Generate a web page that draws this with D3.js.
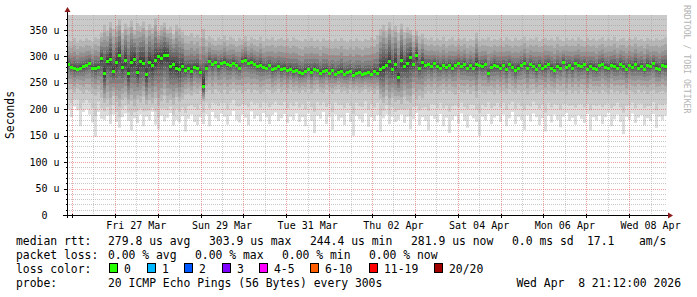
<!DOCTYPE html>
<html>
<head>
<meta charset="utf-8">
<script src="https://cdn.jsdelivr.net/npm/d3@7"></script>
<style>
  body { margin: 0; background: #fff; }
  text { font-family: "DejaVu Sans Mono", monospace; }
</style>
</head>
<body>
<div id="chart"></div>
<script>
// median rtt per 100.8 min step (us), 200 steps
const median = [
  286,280,278,277,279,281,283,287,279,278,280,297,
  268,292,296,273,289,302,280,293,268,290,296,270,291,288,266,290,284,293,300,297,303,302,282,286,279,276,282,274,278,273,280,279,270,
  244,279,291,285,290,281,287,290,286,283,288,284,278,292,294,288,289,286,282,284,280,279,283,276,278,281,276,279,274,277,272,275,270,
  268,273,276,271,277,274,269,272,275,268,274,266,271,273,267,270,272,265,269,271,266,268,270,267,273,269,276,280,284,291,277,286,262,
  293,281,288,298,285,302,278,289,283,285,281,287,282,279,283,280,284,279,284,287,282,285,278,283,279,286,283,282,285,268,280,284,281,
  279,283,277,285,280,274,279,283,287,278,285,281,276,284,278,281,286,279,275,282,279,290,280,284,278,287,283,281,285,277,282,279,276,
  283,286,280,278,284,282,279,286,281,277,283,280,285,279,282,276,284,281,287,279,276,283,282
];
// smoke: lowest ping, 3rd ping, 18th ping, highest ping (us)
const lo = [
  200,185,205,198,168,195,200,190,175,148,195,182,
  180,188,172,190,176,165,185,192,178,160,183,174,190,168,186,179,195,171,162,188,177,184,193,169,180,175,187,158,182,190,176,170,185,
  172,190,168,195,183,178,192,186,171,188,197,180,175,190,184,170,196,182,188,177,193,185,172,189,194,178,183,191,174,186,180,192,176,
  185,168,192,178,155,188,182,195,172,186,160,190,179,184,170,193,176,150,188,181,175,192,167,185,178,189,158,183,190,172,186,176,180,
  190,174,186,162,181,193,170,185,178,160,188,182,175,191,168,184,155,180,187,173,192,178,165,189,183,176,150,186,179,191,172,184,188,
  176,190,168,183,195,172,186,180,161,189,177,192,185,170,183,158,188,175,190,180,166,186,193,178,184,171,189,182,174,191,160,185,179,
  188,172,185,193,168,181,190,176,153,186,180,192,174,184,189,170,183,178,191,165,186,180,188
];
const dn = [
  236,238,232,240,235,230,237,234,229,226,233,222,
  212,220,208,225,214,205,218,222,210,216,206,219,213,224,209,217,211,221,207,215,226,212,218,209,223,214,220,228,230,226,232,229,235,
  215,233,236,230,238,234,231,237,229,235,239,233,236,230,234,238,232,237,235,229,233,238,236,231,234,239,232,236,230,237,233,235,231,
  236,232,238,230,235,239,233,231,237,234,229,236,238,232,235,230,237,233,236,231,234,238,232,235,229,236,220,212,225,208,222,214,218,
  210,224,216,212,228,219,226,221,230,234,231,236,229,233,237,230,235,232,228,236,233,231,237,229,234,222,236,232,230,235,233,228,236,
  231,234,229,237,233,230,236,232,235,228,234,237,231,233,236,229,235,232,230,237,233,234,228,236,231,235,230,237,233,229,236,232,234,
  230,236,233,229,237,232,235,231,234,228,236,233,230,237,232,235,229,234,236,231,233,235,232
];
const up = [
  330,328,335,326,332,329,334,331,327,336,333,345,
  360,348,365,352,358,370,345,362,355,368,350,363,357,366,349,361,354,372,347,359,364,351,356,342,360,353,347,340,338,344,336,341,335,
  352,332,338,334,330,336,333,339,331,337,334,329,335,332,338,330,336,333,331,337,329,334,332,336,330,333,335,331,334,329,336,332,330,
  328,333,330,335,329,332,327,334,330,331,328,333,329,335,330,327,332,329,334,330,328,333,331,336,332,340,352,360,348,365,350,358,345,
  362,346,355,350,340,348,338,343,335,332,336,330,334,331,337,329,333,336,330,334,332,335,329,333,331,345,330,334,332,336,330,333,331,
  334,330,336,332,329,335,331,333,337,330,334,332,336,329,333,335,331,334,330,337,332,329,335,331,334,330,336,332,329,335,331,334,330,
  333,336,330,334,331,337,329,333,335,330,334,332,336,331,333,329,335,332,330,334,331,333,336
];
const hi = [
  440,460,430,480,450,470,445,500,455,435,490,520,
  560,520,600,540,580,610,530,570,590,550,620,540,575,600,530,560,585,610,545,570,595,555,580,520,565,540,510,500,480,495,470,490,460,
  500,470,455,480,445,465,490,450,475,460,485,445,470,455,480,450,465,490,455,470,445,480,460,475,450,465,485,455,470,445,480,460,450,
  455,470,445,480,460,450,475,440,465,455,480,445,470,460,450,475,445,465,455,480,450,470,460,485,470,500,540,570,520,590,550,560,530,
  580,540,560,520,500,530,490,510,480,470,485,460,475,450,470,445,465,480,455,470,450,475,445,465,455,500,450,470,460,475,445,465,455,
  470,450,475,455,445,480,460,450,475,440,465,455,480,445,470,460,450,475,455,445,470,460,480,450,465,455,475,445,470,460,450,475,455,
  465,450,480,455,445,470,460,475,450,465,455,480,445,470,460,450,475,455,465,445,470,460,455
];

// y ticks in us, day labels
const yTicks = [0, 50, 100, 150, 200, 250, 300, 350];
const dayLabels = ["Fri 27 Mar", "Sun 29 Mar", "Tue 31 Mar", "Thu 02 Apr", "Sat 04 Apr", "Mon 06 Apr", "Wed 08 Apr"];
const labelDates = ["2026-03-27", "2026-03-29", "2026-03-31", "2026-04-02", "2026-04-04", "2026-04-06", "2026-04-08"];

// legend
const statsRtt = ["279.8 us avg", "303.9 us max", "244.4 us min", "281.9 us now", "0.0 ms sd", "17.1", "am/s"];
const statsLoss = ["0.00 % avg", "0.00 % max", "0.00 % min", "0.00 % now"];
const lossLabels = ["0", "1", "2", "3", "4-5", "6-10", "11-19", "20/20"];
const lossColors = ["#26ff00", "#00b8ff", "#0059ff", "#7e00ff", "#ff00ff", "#ff5e00", "#ff0000", "#a10000"];

// svg setup
let svgWidth = 697;
let svgHeight = 297;
let plot = { left: 67, right: 667, top: 15, bottom: 215 };

let svg = d3.select("#chart")
    .append("svg")
    .attr("width", svgWidth)
    .attr("height", svgHeight);

svg.append("rect").attr("width", svgWidth).attr("height", svgHeight).attr("fill", "#fff");

// time range: two weeks ending at graph time
let endTime = new Date(2026, 3, 8, 21, 12);
let startTime = new Date(endTime.getTime() - 14 * 24 * 3600 * 1000);
let step = (endTime - startTime) / median.length;

let xScale = d3.scaleTime()
    .domain([startTime, endTime])
    .range([plot.left, plot.right]);
let yScale = d3.scaleLinear()
    .domain([0, 378.4])
    .range([plot.bottom, plot.top]);

// sorted ping k (1..20) of a step, pinned to lo/dn/median/up/hi.
// narrow steps bunch up near the median, wide (jittery) steps spread out
function ping(i, k) {
    if (k <= 3) return lo[i] + (dn[i] - lo[i]) * (k - 1) / 2;
    if (k >= 18) return up[i] + (hi[i] - up[i]) * (k - 18) / 2;
    let a = Math.min(2, Math.max(1.2, 2 - (up[i] - dn[i] - 100) / 45));
    if (k < 10.5) {
        let u = (k - 3) / 7.5;
        return dn[i] + (median[i] - dn[i]) * (1 - Math.pow(1 - u, a));
    }
    let u = (18 - k) / 7.5;
    return up[i] - (up[i] - median[i]) * (1 - Math.pow(1 - u, a));
}

let n = Math.min(median.length, lo.length, dn.length, up.length, hi.length);
let cols = d3.range(n).map(i => ({
    i: i,
    t: new Date(startTime.getTime() + i * step),
    p: d3.range(21).map(k => ping(i, k))
}));

svg.append("clipPath").attr("id", "plotclip")
    .append("rect")
    .attr("x", plot.left).attr("y", plot.top)
    .attr("width", plot.right - plot.left).attr("height", plot.bottom - plot.top);

// smoke: 10 grey bands per step
let smoke = svg.append("g").attr("clip-path", "url(#plotclip)");
cols.forEach(c => {
    let x0 = xScale(c.t);
    let x1 = xScale(new Date(c.t.getTime() + step));
    for (let b = 1; b <= 10; b++) {
        let g = 221 - 19 * (b - 1);
        let top = yScale(c.p[21 - b]);
        let bot = yScale(c.p[b]);
        smoke.append("rect")
            .attr("x", x0)
            .attr("width", x1 - x0)
            .attr("y", top)
            .attr("height", Math.max(0, bot - top))
            .attr("fill", d3.rgb(g, g, g));
    }
});

// grid (drawn over the smoke, like rrdtool)
let grid = svg.append("g");
d3.range(10, 380, 10).filter(v => v % 50 != 0).forEach(v => {
    grid.append("line")
        .attr("x1", plot.left).attr("x2", plot.right)
        .attr("y1", Math.round(yScale(v)) + 0.5).attr("y2", Math.round(yScale(v)) + 0.5)
        .attr("stroke", "rgba(160,160,160,0.6)")
        .attr("stroke-dasharray", "1,1");
});
let hours12 = d3.timeHour.every(12).range(startTime, endTime).filter(d => d.getHours() != 0);
hours12.forEach(d => {
    grid.append("line")
        .attr("x1", Math.round(xScale(d)) + 0.5).attr("x2", Math.round(xScale(d)) + 0.5)
        .attr("y1", plot.top).attr("y2", plot.bottom)
        .attr("stroke", "rgba(160,160,160,0.5)")
        .attr("stroke-dasharray", "1,1");
});
yTicks.filter(v => v > 0).forEach(v => {
    grid.append("line")
        .attr("x1", plot.left).attr("x2", plot.right)
        .attr("y1", Math.round(yScale(v)) + 0.5).attr("y2", Math.round(yScale(v)) + 0.5)
        .attr("stroke", "rgba(230,80,80,0.55)")
        .attr("stroke-dasharray", "1,1");
});
let days = d3.timeDay.range(startTime, endTime);
days.forEach(d => {
    grid.append("line")
        .attr("x1", Math.round(xScale(d)) + 0.5).attr("x2", Math.round(xScale(d)) + 0.5)
        .attr("y1", plot.top).attr("y2", plot.bottom)
        .attr("stroke", "rgba(230,80,80,0.55)")
        .attr("stroke-dasharray", "1,1");
});

// median dots
svg.append("g").attr("clip-path", "url(#plotclip)")
    .selectAll("rect")
    .data(cols)
    .enter()
    .append("rect")
    .attr("x", c => xScale(c.t))
    .attr("y", c => Math.round(yScale(median[c.i])) - 1)
    .attr("width", c => xScale(new Date(c.t.getTime() + step)) - xScale(c.t))
    .attr("height", 3)
    .attr("fill", lossColors[0]);

// axes
svg.append("line")
    .attr("x1", plot.left - 4).attr("x2", plot.right + 1)
    .attr("y1", plot.bottom + 0.5).attr("y2", plot.bottom + 0.5)
    .attr("stroke", "#000");
svg.append("line")
    .attr("x1", plot.left + 0.5).attr("x2", plot.left + 0.5)
    .attr("y1", plot.bottom + 3).attr("y2", plot.top - 3)
    .attr("stroke", "#000");
svg.append("path")
    .attr("d", `M${plot.right + 1},${plot.bottom - 2.5}L${plot.right + 6},${plot.bottom + 0.5}L${plot.right + 1},${plot.bottom + 3.5}Z`)
    .attr("fill", "#8b1a1a");
svg.append("path")
    .attr("d", `M${plot.left - 2.5},${plot.top - 3}L${plot.left + 0.5},${plot.top - 8}L${plot.left + 3.5},${plot.top - 3}Z`)
    .attr("fill", "#8b1a1a");

// tick marks
days.forEach(d => {
    svg.append("line")
        .attr("x1", Math.round(xScale(d)) + 0.5).attr("x2", Math.round(xScale(d)) + 0.5)
        .attr("y1", plot.bottom - 1).attr("y2", plot.bottom + 3)
        .attr("stroke", "#000");
});
d3.range(0, 380, 10).forEach(v => {
    svg.append("line")
        .attr("x1", plot.left - (v % 50 == 0 ? 3 : 1)).attr("x2", plot.left + 1)
        .attr("y1", Math.round(yScale(v)) + 0.5).attr("y2", Math.round(yScale(v)) + 0.5)
        .attr("stroke", "#000");
});

// axis labels
svg.append("g").selectAll("text")
    .data(yTicks)
    .enter()
    .append("text")
    .attr("x", v => v == 0 ? 47.5 : 59.5)
    .attr("y", v => yScale(v) + 3.5)
    .attr("text-anchor", "end")
    .attr("font-size", "10px")
    .attr("fill", "#000")
    .text(v => v == 0 ? "0" : v + " u");

svg.append("g").selectAll("text")
    .data(dayLabels)
    .enter()
    .append("text")
    .attr("x", (d, i) => xScale(new Date(d3.timeParse("%Y-%m-%d")(labelDates[i]).getTime() + 12 * 3600 * 1000)))
    .attr("y", 228.5)
    .attr("text-anchor", "middle")
    .attr("font-size", "10px")
    .attr("fill", "#000")
    .text(d => d);

svg.append("text")
    .attr("transform", "translate(14,115) rotate(-90)")
    .attr("text-anchor", "middle")
    .attr("font-size", "11.4px")
    .attr("fill", "#000")
    .text("Seconds");

// watermark
svg.append("text")
    .attr("transform", "translate(684,5) rotate(90)")
    .attr("font-size", "8.2px")
    .attr("fill", "#b4b4b4")
    .text("RRDTOOL / TOBI OETIKER");

// legend
let legend = svg.append("g").attr("font-size", "11.4px").attr("fill", "#000");
let rows = [245, 259, 273, 287];
legend.append("text").attr("x", 16).attr("y", rows[0]).text("median rtt:");
let rttX = [108, 209, 310, 411, 512, 587, 639];
statsRtt.forEach((s, i) => legend.append("text").attr("x", rttX[i]).attr("y", rows[0]).text(s));
legend.append("text").attr("x", 16).attr("y", rows[1]).text("packet loss:");
let lossX = [108, 195, 282, 369];
statsLoss.forEach((s, i) => legend.append("text").attr("x", lossX[i]).attr("y", rows[1]).text(s));
legend.append("text").attr("x", 16).attr("y", rows[2]).text("loss color:");
let boxX = [109, 147, 184, 222, 259, 310, 369, 434];
lossLabels.forEach((s, i) => {
    legend.append("rect")
        .attr("x", boxX[i] + 0.5).attr("y", rows[2] - 9.5)
        .attr("width", 8).attr("height", 9)
        .attr("fill", lossColors[i])
        .attr("stroke", "#000");
    legend.append("text").attr("x", boxX[i] + 15).attr("y", rows[2]).text(s);
});
legend.append("text").attr("x", 16).attr("y", rows[3]).text("probe:");
legend.append("text").attr("x", 108).attr("y", rows[3]).text("20 ICMP Echo Pings (56 Bytes) every 300s");
legend.append("text").attr("x", 681).attr("y", rows[3]).attr("text-anchor", "end")
    .style("white-space", "pre").text("Wed Apr  8 21:12:00 2026");
</script>
</body>
</html>
